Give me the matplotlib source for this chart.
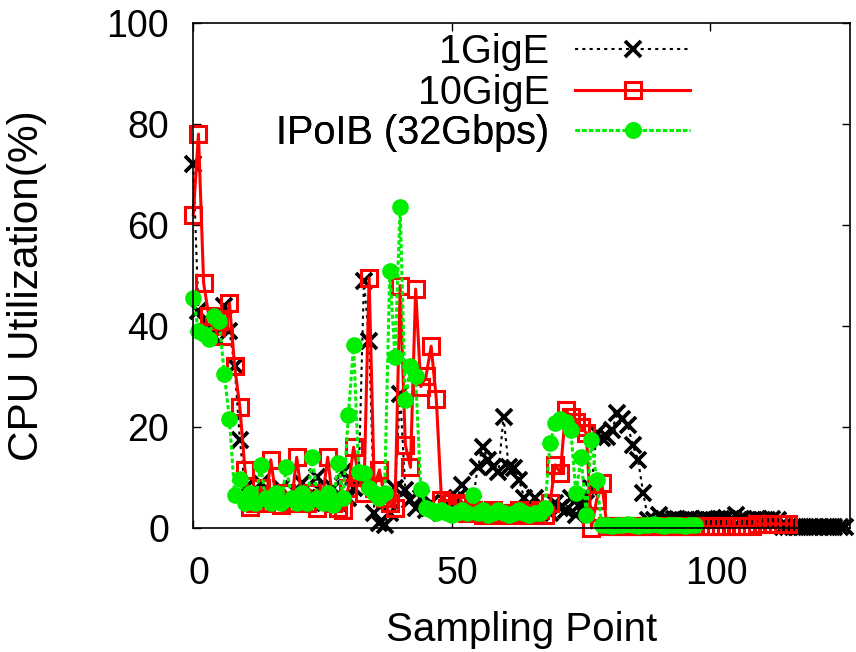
import matplotlib
matplotlib.use('Agg')
import matplotlib.pyplot as plt
import matplotlib.transforms as mtransforms
import numpy as np

plt.rcParams['font.family'] = ['Liberation Sans', 'DejaVu Sans']

# CPU utilization (%) per sampling point
gige1 = [72, 43, 41, 39, 38, 40, 44, 39, 32, 17.5,
         8, 5, 6, 9, 6, 7, 5, 8, 6, 5,
         7, 9, 6, 5, 10, 7, 6, 8, 5, 11,
         6, 8, 10, 49, 37, 3, 1, 0.5, 3, 8,
         26.5, 7.5, 5.5, 4, 6, 3.5, 5, 4, 3, 5,
         4, 6, 8.5, 4, 5, 12, 16, 13.5, 12, 11,
         22, 12, 11.8, 9.5, 6, 4, 6, 3, 4, 3,
         5, 4, 3.5, 6, 2.5, 5, 5, 8, 18.8, 17.8,
         18.1, 19.5, 22.7, 21.5, 20.4, 16.4, 13.5, 7, 1.5, 1.5,
         2.5, 1.8, 1.5, 1.8, 1.5, 1.5, 1.8, 1.5, 1.5, 1.8,
         1.5, 1.5, 1.8, 2, 1.8, 2.5, 1.8, 1.5, 1.5, 1.8,
         1.5, 1.5, 1.8, 1.5, 0.2, 0.2, 0.2, 0.2, 0.2, 0.2,
         0.2, 0.2, 0.2, 0.2, 0.2, 0.2, 0.2]

gige10 = [62, 78, 48.5, 42, 40, 41, 38, 44.5, 32, 24,
          11.5, 4.2, 5, 8, 5, 13.5, 6, 4.5, 7, 5,
          14, 6, 5, 7, 4, 6, 14, 5, 4, 3.5,
          8, 16, 10, 7, 49.5, 8, 11.5, 6, 5, 4,
          48, 16.5, 12, 47.3, 28, 30, 36, 25.5, 5.5, 4,
          5, 4.5, 5, 3, 3.5, 3, 2.5, 3, 3.5, 2.5,
          3, 3, 2.5, 3.5, 3, 2.5, 3, 3.5, 2.5, 5,
          12.5, 10.9, 23.4, 22, 21, 20, 18.8, 0, 5.5, 8.9,
          0.3, 0.3, 0.3, 0.3, 0.3, 0.3, 0.3, 0.3, 0.3, 0.3,
          0.3, 0.3, 0.3, 0.3, 0.3, 0.3, 0.3, 0.3, 0.3, 0.3,
          0.3, 0.3, 0.3, 0.3, 0.3, 0.3, 0.3, 0.3, 0.3, 0.8,
          0.8, 0.8, 0.8, 0.8, 0.8, 0.8]

ipoib = [45.5, 39, 38.5, 37.5, 42, 41, 30.5, 21.5, 6.5, 9.8,
         5, 7, 5, 12.5, 6, 5, 7, 5, 12, 6,
         5, 7, 5, 14, 6, 5, 7, 4.5, 12.8, 6,
         22.4, 36.2, 11, 10.8, 8, 6.9, 5.9, 7, 50.8, 33.9,
         63.5, 25.3, 32, 30, 7.7, 4, 3.5, 3, 3.5, 3,
         2.5, 3, 3.5, 3, 6.5, 3, 3.5, 2.5, 3, 3.5,
         3, 2.5, 3, 3.5, 3, 2.5, 3, 3, 4, 16.8,
         20.7, 21.5, 21, 19.4, 6.9, 14, 2.6, 17.4, 9.5, 0.5,
         0.5, 0.4, 0.6, 0.5, 0.8, 0.5, 0.4, 0.6, 0.5, 0.7,
         0.5, 0.4, 0.6, 0.5, 0.5, 0.4, 0.6, 0.5]

labels = ['1GigE', '10GigE', 'IPoIB (32Gbps)']
fs = 27

fig = plt.figure(figsize=(8.56, 6.52), dpi=100)
ax = fig.add_axes([0.2258, 0.1902, 0.7672, 0.7745])

l1, = ax.plot(np.arange(len(gige1)), gige1, color='black', lw=1.5, ls=(0, (1.5, 2)),
              marker='x', ms=11, mew=2.7, clip_on=False, zorder=2)
l2, = ax.plot(np.arange(len(gige10)), gige10, color='#ff0000', lw=2.2, ls='-',
              marker='s', ms=12, mew=2.2, mfc='none', clip_on=False, zorder=2.1)
l3, = ax.plot(np.arange(len(ipoib)), ipoib, color='#00ee00', lw=2.2, ls=(0, (1.4, 0.8)),
              marker='o', ms=12, mew=0, mfc='#00ee00', clip_on=False, zorder=2.2)

ax.set_xlim(0, 127)
ax.set_ylim(0, 100)
ax.set_xticks([0, 50, 100])
ax.set_yticks([0, 20, 40, 60, 80, 100])
ax.tick_params(direction='in', length=6, width=1, top=True, right=True, labelsize=fs)
ax.tick_params(axis='x', pad=20)
ax.tick_params(axis='y', pad=17.5)
shift = mtransforms.ScaledTranslation(0.06, 0, fig.dpi_scale_trans)
for lab in ax.get_xticklabels():
    lab.set_transform(lab.get_transform() + shift)
for s in ax.spines.values():
    s.set_linewidth(1.2)
    s.set_zorder(5)

ax.set_xlabel('Sampling Point', fontsize=29)
ax.set_ylabel('CPU Utilization(%)', fontsize=30.5)
ax.xaxis.set_label_coords(0.5, -0.165)
ax.yaxis.set_label_coords(-0.222, 0.48)

# one legend per row so the texts stay right-aligned against the samples
rows = [0.9426, 0.8614, 0.782]
for line, lab, yy in zip([l1, l2, l3], labels, rows):
    leg = ax.legend([line], [lab], loc='center right', bbox_to_anchor=(0.7564, yy),
                    frameon=False, markerfirst=False, handlelength=2.9,
                    handletextpad=0.65, borderpad=0, borderaxespad=0,
                    numpoints=1, fontsize=28.5)
    ax.add_artist(leg)

plt.savefig('out.png', dpi=100)
